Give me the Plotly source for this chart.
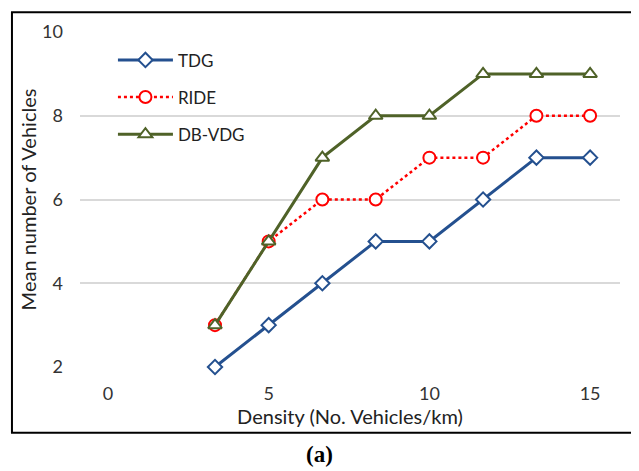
import plotly.graph_objects as go

density = [3.33, 5, 6.67, 8.33, 10, 11.67, 13.33, 15]
tdg = [2, 3, 4, 5, 5, 6, 7, 7]
ride = [3, 5, 6, 6, 7, 7, 8, 8]
dbvdg = [3, 5, 7, 8, 8, 9, 9, 9]
x_ticks = [0, 5, 10, 15]
y_ticks = [2, 4, 6, 8, 10]

FONT = "Lato, 'Open Sans', sans-serif"

fig = go.Figure()
fig.add_trace(go.Scatter(
    x=density, y=tdg, name="TDG", mode="lines+markers", legendgroup="a", cliponaxis=False,
    line=dict(color="#24508F", width=3),
    marker=dict(symbol="diamond", size=11, color="white", line=dict(color="#24508F", width=2)),
))
fig.add_trace(go.Scatter(
    x=density, y=ride, name="RIDE", mode="lines+markers", legendgroup="b", cliponaxis=False,
    line=dict(color="#FF0000", width=2.5, dash="dot"),
    marker=dict(symbol="circle", size=12, color="white", line=dict(color="#FF0000", width=2)),
))
fig.add_trace(go.Scatter(
    x=density, y=dbvdg, name="DB-VDG", mode="lines+markers", legendgroup="c", cliponaxis=False,
    line=dict(color="#4F6228", width=3),
    marker=dict(symbol="triangle-up", size=12, color="white", line=dict(color="#4F6228", width=2)),
))

fig.update_layout(
    width=631, height=463,
    margin=dict(l=72, r=19, t=22, b=104),
    paper_bgcolor="white", plot_bgcolor="white",
    font=dict(family=FONT, color="#222222", size=17),
    showlegend=True,
    legend=dict(x=0.061, y=0.969, xanchor="left", yanchor="top", itemwidth=55,
                bgcolor="rgba(0,0,0,0)", font=dict(size=17, family=FONT, color="#222222"),
                traceorder="grouped", tracegroupgap=12),
    xaxis=dict(range=[-0.87, 15.93], tickvals=x_ticks, showgrid=False, zeroline=False,
               showline=False, ticks="", ticklabelstandoff=14,
               tickfont=dict(size=18, color="#333333"),
               title=dict(text="Density (No. Vehicles/km)", font=dict(size=20, color="#222222"), standoff=6)),
    yaxis=dict(range=[2, 10], tickvals=y_ticks, showgrid=True, gridcolor="#D9D9D9", gridwidth=1.5,
               zeroline=False, showline=False, ticks="", ticklabelstandoff=16,
               tickfont=dict(size=18, color="#333333"),
               title=dict(text="Mean number of Vehicles", font=dict(size=20, color="#222222"), standoff=0)),
)

fig.add_shape(type="rect", xref="paper", yref="paper",
              x0=-0.126, x1=1.031, y0=-0.196, y1=1.059,
              line=dict(color="black", width=2), fillcolor="rgba(0,0,0,0)", layer="above")

fig.add_annotation(text="<b>(a)</b>", xref="paper", yref="paper", x=0.444, y=-0.261,
                   showarrow=False, yanchor="middle",
                   font=dict(family="'Liberation Serif', 'Times New Roman', serif", size=23, color="black"))

fig.write_html("out.html")
